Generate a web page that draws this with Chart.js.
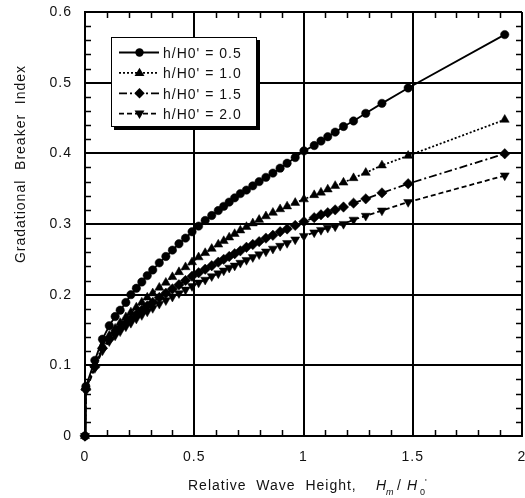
<!DOCTYPE html>
<html>
<head>
<meta charset="utf-8">
<script src="https://cdn.jsdelivr.net/npm/chart.js@4/dist/chart.umd.min.js"></script>
<style>
html,body{margin:0;padding:0;background:#fff;}
#wrap{width:525px;height:498px;}
</style>
</head>
<body>
<div id="wrap"><canvas id="c" width="525" height="498"></canvas></div>
<script>
const xValues = [0, 0.004, 0.045, 0.08, 0.111, 0.138, 0.161, 0.187, 0.21, 0.235, 0.26, 0.285, 0.31, 0.34, 0.37, 0.40, 0.43, 0.46, 0.49, 0.52, 0.55, 0.58, 0.61, 0.635, 0.66, 0.685, 0.711, 0.739, 0.768, 0.797, 0.828, 0.860, 0.893, 0.925, 0.962, 1.002, 1.049, 1.08, 1.111, 1.145, 1.183, 1.229, 1.285, 1.359, 1.479, 1.921];
const seriesA = [0, 0.070, 0.107, 0.137, 0.156, 0.169, 0.178, 0.189, 0.200, 0.209, 0.218, 0.227, 0.235, 0.245, 0.254, 0.263, 0.272, 0.280, 0.289, 0.297, 0.305, 0.312, 0.319, 0.325, 0.331, 0.337, 0.343, 0.348, 0.354, 0.360, 0.366, 0.372, 0.379, 0.386, 0.394, 0.4035, 0.411, 0.4174, 0.4235, 0.430, 0.438, 0.4458, 0.4566, 0.4707, 0.4925, 0.568];
const seriesB = [0, 0.068, 0.100, 0.128, 0.142, 0.152, 0.160, 0.168, 0.175, 0.182, 0.189, 0.196, 0.202, 0.210, 0.217, 0.225, 0.232, 0.239, 0.246, 0.253, 0.259, 0.265, 0.271, 0.276, 0.281, 0.286, 0.291, 0.296, 0.301, 0.306, 0.311, 0.316, 0.321, 0.325, 0.330, 0.335, 0.341, 0.3445, 0.349, 0.354, 0.3587, 0.365, 0.3725, 0.383, 0.3966, 0.4476];
const seriesC = [0, 0.066, 0.098, 0.124, 0.137, 0.146, 0.153, 0.160, 0.166, 0.172, 0.178, 0.184, 0.189, 0.196, 0.202, 0.208, 0.214, 0.220, 0.226, 0.231, 0.236, 0.241, 0.246, 0.250, 0.254, 0.258, 0.262, 0.267, 0.271, 0.275, 0.280, 0.284, 0.289, 0.293, 0.298, 0.3034, 0.309, 0.313, 0.316, 0.320, 0.324, 0.3295, 0.3356, 0.344, 0.357, 0.3994];
const seriesD = [0, 0.064, 0.096, 0.121, 0.134, 0.142, 0.148, 0.155, 0.160, 0.166, 0.171, 0.176, 0.181, 0.187, 0.192, 0.197, 0.202, 0.207, 0.212, 0.217, 0.221, 0.226, 0.230, 0.234, 0.238, 0.241, 0.245, 0.249, 0.253, 0.257, 0.261, 0.265, 0.269, 0.273, 0.278, 0.283, 0.288, 0.2915, 0.2945, 0.2965, 0.300, 0.306, 0.3115, 0.319, 0.331, 0.3686];
const seriesLabels = ["h/H0' = 0.5", "h/H0' = 1.0", "h/H0' = 1.5", "h/H0' = 2.0"];
const xTickValues = [0, 0.5, 1, 1.5, 2];
const yTickValues = [0, 0.1, 0.2, 0.3, 0.4, 0.5, 0.6];
const xTitle = "Relative  Wave  Height,";
const yTitle = "Gradational  Breaker  Index";

const FONT = "'Liberation Sans', Arial, sans-serif";
const styles = [
  {pointStyle:'circle', radius:4.2, rotation:0, dash:[], lw:1.8},
  {pointStyle:'triangle', radius:5.2, rotation:0, dash:[2,2], lw:1.8},
  {pointStyle:'rectRot', radius:5.2, rotation:0, dash:[8,3,2,3], lw:1.8},
  {pointStyle:'triangle', radius:5.2, rotation:180, dash:[5,3], lw:1.8}
];
const allSeries = [seriesA, seriesB, seriesC, seriesD];

const datasets = allSeries.map((ys, k) => ({
  label: seriesLabels[k],
  data: xValues.map((x, i) => ({x: x, y: ys[i]})),
  borderColor: '#000',
  backgroundColor: '#000',
  borderWidth: styles[k].lw,
  borderDash: styles[k].dash,
  pointStyle: styles[k].pointStyle,
  pointRadius: styles[k].radius,
  pointRotation: styles[k].rotation,
  pointBorderWidth: 0.5,
  pointBackgroundColor: '#000',
  pointBorderColor: '#000',
  tension: 0,
  fill: false,
  clip: false
}));

function drawMarker(ctx, st, x, y) {
  ctx.save();
  ctx.setLineDash([]);
  ctx.fillStyle = '#000';
  ctx.beginPath();
  const r = st.radius;
  if (st.pointStyle === 'circle') {
    ctx.arc(x, y, r, 0, Math.PI * 2);
  } else if (st.pointStyle === 'rectRot') {
    ctx.moveTo(x, y - r); ctx.lineTo(x + r, y); ctx.lineTo(x, y + r); ctx.lineTo(x - r, y);
  } else {
    const s = st.rotation === 180 ? -1 : 1;
    ctx.moveTo(x, y - s * r);
    ctx.lineTo(x + r * 0.95, y + s * r * 0.6);
    ctx.lineTo(x - r * 0.95, y + s * r * 0.6);
  }
  ctx.closePath();
  ctx.fill();
  ctx.restore();
}

const decor = {
  id: 'decor',
  beforeDraw(chart) {
    chart.ctx.letterSpacing = '1px';
  },
  beforeDatasetsDraw(chart) {
    const ctx = chart.ctx;
    const xs = chart.scales.x, ys = chart.scales.y;
    const a = chart.chartArea;
    ctx.save();
    ctx.strokeStyle = '#000';
    ctx.lineWidth = 1.5;
    ctx.beginPath();
    for (let i = 1; i < 20; i++) {
      if (i % 5 === 0) continue;
      const px = Math.round(xs.getPixelForValue(i / 10)) + 0.5;
      ctx.moveTo(px, a.bottom); ctx.lineTo(px, a.bottom - 6);
      ctx.moveTo(px, a.top); ctx.lineTo(px, a.top + 6);
    }
    for (let j = 1; j < 30; j++) {
      if (j % 5 === 0) continue;
      const py = Math.round(ys.getPixelForValue(j / 50)) + 0.5;
      ctx.moveTo(a.left, py); ctx.lineTo(a.left + 6, py);
      ctx.moveTo(a.right, py); ctx.lineTo(a.right - 6, py);
    }
    ctx.stroke();
    ctx.restore();
  },
  afterDraw(chart) {
    const ctx = chart.ctx;
    ctx.save();
    ctx.fillStyle = '#111';
    ctx.letterSpacing = '1px';
    ctx.save();
    ctx.translate(21, 164);
    ctx.rotate(-Math.PI / 2);
    ctx.font = '14px ' + FONT;
    ctx.textAlign = 'center';
    ctx.textBaseline = 'middle';
    ctx.fillText(yTitle, 0, 0);
    ctx.restore();
    ctx.font = '14px ' + FONT;
    ctx.textAlign = 'left';
    ctx.textBaseline = 'alphabetic';
    ctx.fillText(xTitle, 188, 490);
    ctx.letterSpacing = '0px';
    ctx.font = 'italic 14px ' + FONT;
    ctx.fillText('H', 376, 490);
    ctx.font = 'italic 9px ' + FONT;
    ctx.fillText('m', 386, 495);
    ctx.font = '14px ' + FONT;
    ctx.fillText('/', 397, 490);
    ctx.font = 'italic 14px ' + FONT;
    ctx.fillText('H', 407, 490);
    ctx.font = '9px ' + FONT;
    ctx.fillText('0', 420, 495);
    ctx.font = '9px ' + FONT;
    ctx.fillText("'", 425, 485);
    ctx.restore();

    ctx.save();
    const bx = 111, by = 37, bw = 146, bh = 90;
    ctx.fillStyle = '#000';
    ctx.fillRect(bx + 3, by + 3, bw, bh);
    ctx.fillStyle = '#fff';
    ctx.fillRect(bx, by, bw, bh);
    ctx.strokeStyle = '#000';
    ctx.lineWidth = 1;
    ctx.strokeRect(bx + 0.5, by + 0.5, bw - 1, bh - 1);
    for (let k = 0; k < 4; k++) {
      const yy = 52.5 + k * 20.4;
      ctx.strokeStyle = '#000';
      ctx.lineWidth = styles[k].lw;
      ctx.setLineDash(styles[k].dash);
      ctx.beginPath();
      ctx.moveTo(119, yy); ctx.lineTo(159, yy);
      ctx.stroke();
      drawMarker(ctx, styles[k], 139.5, yy);
      ctx.setLineDash([]);
      ctx.fillStyle = '#111';
      ctx.font = '14px ' + FONT;
      ctx.letterSpacing = '1px';
      ctx.textAlign = 'left';
      ctx.textBaseline = 'middle';
      ctx.fillText(seriesLabels[k], 163, yy + 1.5);
    }
    ctx.restore();
  }
};

new Chart(document.getElementById('c'), {
  type: 'line',
  data: { datasets: datasets },
  options: {
    responsive: false,
    animation: false,
    devicePixelRatio: 1,
    layout: { autoPadding: false, padding: { left: 0, top: 12, right: 3, bottom: 0 } },
    plugins: { legend: { display: false }, tooltip: { enabled: false } },
    scales: {
      x: {
        type: 'linear', min: 0, max: 2,
        afterFit(s) { s.height = 62; s.paddingLeft = 0; s.paddingRight = 0; s.paddingTop = 0; s.paddingBottom = 0; },
        afterBuildTicks(s) { s.ticks = xTickValues.map(v => ({value: v})); },
        grid: { color: '#000', lineWidth: 2, drawTicks: false },
        border: { display: true, color: '#000', width: 2 },
        ticks: { color: '#111', padding: 13, font: { family: FONT, size: 14 }, maxRotation: 0,
          callback: v => String(v) }
      },
      y: {
        type: 'linear', min: 0, max: 0.6,
        afterFit(s) { s.width = 85; s.paddingLeft = 0; s.paddingRight = 0; s.paddingTop = 0; s.paddingBottom = 0; },
        afterBuildTicks(s) { s.ticks = yTickValues.map(v => ({value: v})); },
        grid: { color: '#000', lineWidth: 2, drawTicks: false },
        border: { display: true, color: '#000', width: 2 },
        ticks: { color: '#111', padding: 13, font: { family: FONT, size: 14 },
          callback: v => String(v) }
      }
    }
  },
  plugins: [decor]
});
</script>
</body>
</html>
